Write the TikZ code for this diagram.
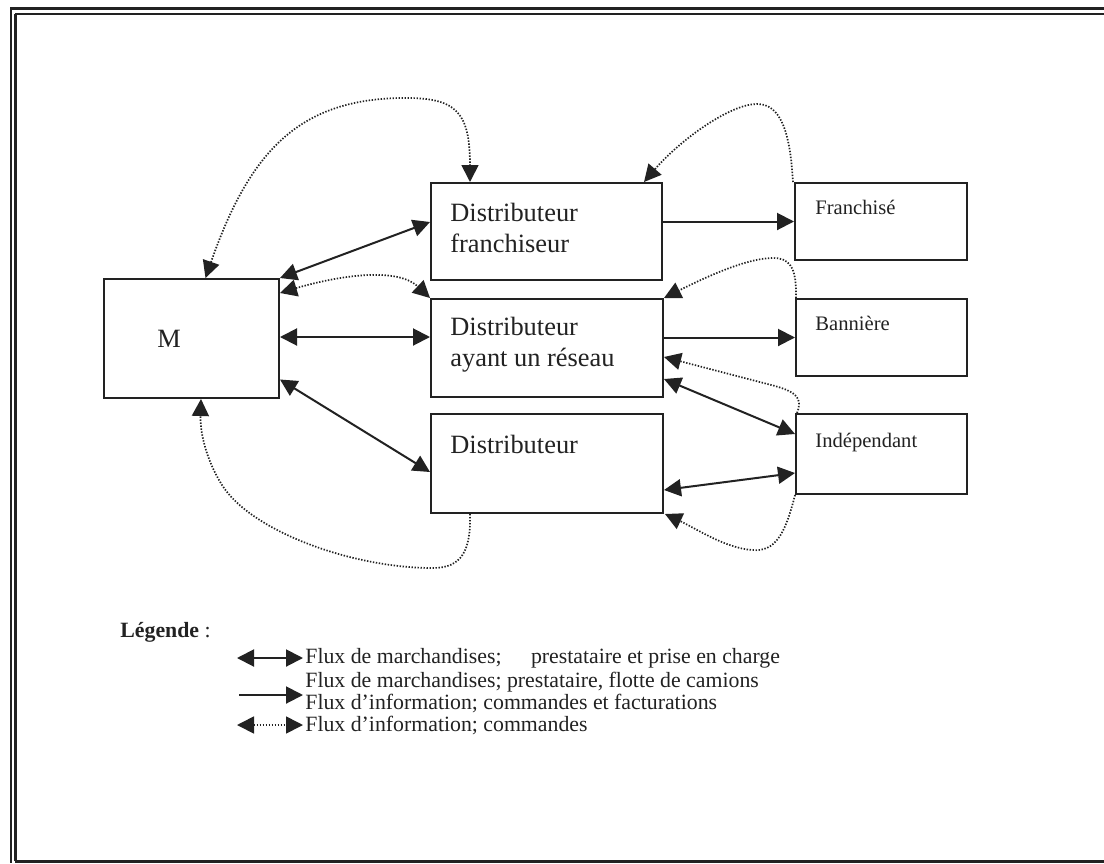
\documentclass[tikz,border=0pt]{standalone}
\usepackage{fontspec}
\setmainfont{Liberation Serif}
\usetikzlibrary{arrows.meta}
\definecolor{ink}{HTML}{222222}
\begin{document}
\begin{tikzpicture}[x=0.5pt,y=-0.5pt,
  box/.style={draw=ink, line width=1pt, inner sep=0pt, anchor=north west},
  bigtxt/.style={font=\fontsize{13.2}{15.5}\selectfont, anchor=base west, inner sep=0pt, text=ink},
  smalltxt/.style={font=\fontsize{10.3}{12}\selectfont, anchor=base west, inner sep=0pt, text=ink},
  legtxt/.style={font=\fontsize{10.9}{12.5}\selectfont, anchor=base west, inner sep=0pt, text=ink},
  flow/.style={draw=ink, line width=1pt, -{Triangle[length=8.5pt,width=8.5pt]}},
  flowtwo/.style={draw=ink, line width=1pt, {Triangle[length=8.5pt,width=8.5pt]}-{Triangle[length=8.5pt,width=8.5pt]}},
  info/.style={draw=ink, line width=0.85pt, dash pattern=on 0.7pt off 0.8pt, -{Triangle[length=8.5pt,width=8.5pt]}},
  infotwo/.style={draw=ink, line width=0.85pt, dash pattern=on 0.7pt off 0.8pt, {Triangle[length=8.5pt,width=8.5pt]}-{Triangle[length=8.5pt,width=8.5pt]}},
  frame/.style={draw=ink, line width=1.3pt}
]
\useasboundingbox (0,0) rectangle (1104,863);
\fill[white] (0,0) rectangle (1104,863);

% page frame
\draw[frame] (10,8.5) -- (1104,8.5);
\draw[frame] (15,14) -- (1104,14);
\draw[frame] (11,8) -- (11,863);
\draw[frame] (15.5,14) -- (15.5,861);
\draw[draw=ink, line width=1.5pt] (15,861.5) -- (1104,861.5);

% boxes
\node[box, minimum width=87.5pt, minimum height=59.5pt] (M)  at (103,278) {};
\node[box, minimum width=115.5pt, minimum height=48.5pt] (DF) at (430,182) {};
\node[box, minimum width=116pt, minimum height=49pt] (DA) at (430,298) {};
\node[box, minimum width=116pt, minimum height=49.5pt] (DD) at (430,413) {};
\node[box, minimum width=86pt, minimum height=38.5pt] (FR) at (794,182) {};
\node[box, minimum width=85.5pt, minimum height=38.5pt] (BA) at (795,298) {};
\node[box, minimum width=85.5pt, minimum height=40pt] (IN) at (795,413) {};

% box labels
\node[bigtxt] (Mt) at (157,347) {M};
\node[bigtxt] (DFa) at (450,221) {Distributeur};
\node[bigtxt] (DFb) at (450,252) {franchiseur};
\node[bigtxt] (DAa) at (450,335) {Distributeur};
\node[bigtxt] (DAb) at (450,366) {ayant un réseau};
\node[bigtxt] (DDa) at (450,453) {Distributeur};
\node[smalltxt] (FRt) at (815,214) {Franchisé};
\node[smalltxt] (BAt) at (815,330) {Bannière};
\node[smalltxt] (INt) at (815,447) {Indépendant};

% goods flows
\draw[flowtwo] (M.north east) -- ([yshift=4.75pt]DF.west);
\draw[flowtwo] ([yshift=0.75pt]M.east) -- ([yshift=5.5pt]DA.west);
\draw[flowtwo] ([yshift=-20.5pt]M.east) -- ([yshift=-4.25pt]DD.west);
\draw[flow] (DF.east |- FR.west) -- (FR.west);
\draw[flow] (DA.east |- BA.west) -- (BA.west);
\draw[flowtwo] ([yshift=-15.5pt]DA.east) -- ([yshift=10pt]IN.west);
\draw[flowtwo] ([yshift=-13.25pt]DD.east) -- ([yshift=-9.5pt]IN.west);

% information flows
\draw[infotwo] ([xshift=7pt]M.north) .. controls (250,150) and (300,100) .. (400,98)
  .. controls (455,97) and (470,110) .. ([xshift=20pt]DF.north west);
\draw[infotwo] ([yshift=-7.5pt]M.north east) .. controls (330,278) and (395,265) .. (DA.north west);
\draw[info] ([xshift=-0.5pt]FR.north west) .. controls (790,130) and (780,104) .. (757,104)
  .. controls (730,104) and (680,140) .. ([xshift=-9.5pt]DF.north east);
\draw[info] ([xshift=0.5pt]BA.north west) .. controls (797,265) and (788,258) .. (773,258)
  .. controls (745,258) and (700,280) .. (DA.north east);
\draw[info] ([xshift=1pt]IN.north west) .. controls (803,398) and (796,392) .. (775,386)
  -- ([yshift=-4.5pt]DA.east);
\draw[info] (IN.south west) .. controls (785,535) and (775,552) .. (752,550)
  .. controls (725,548) and (695,528) .. ([xshift=0.5pt]DD.south east);
\draw[info] ([xshift=20pt]DD.south west) .. controls (471,550) and (462,568) .. (433,568)
  .. controls (350,568) and (250,530) .. (222,485)
  .. controls (205,458) and (200,430) .. ([xshift=4.75pt]M.south);

% legend
\node[legtxt] (lg) at (120,637) {\textbf{Légende} :};
\coordinate (a1l) at (237,658); \coordinate (a1r) at (303,658);
\coordinate (a2l) at (239,695); \coordinate (a2r) at (303,695);
\coordinate (a4l) at (237,725); \coordinate (a4r) at (303,725);
\draw[flowtwo] (a1l) -- (a1r);
\draw[flow] (a2l) -- (a2r);
\draw[infotwo] (a4l) -- (a4r);
\node[legtxt] (l1) at (305,663) {Flux de marchandises;\hspace{1.1em} prestataire et prise en charge};
\node[legtxt] (l2) at (305,687) {Flux de marchandises; prestataire, flotte de camions};
\node[legtxt] (l3) at (305,709) {Flux d’information; commandes et facturations};
\node[legtxt] (l4) at (305,731) {Flux d’information; commandes};
\end{tikzpicture}
\end{document}
